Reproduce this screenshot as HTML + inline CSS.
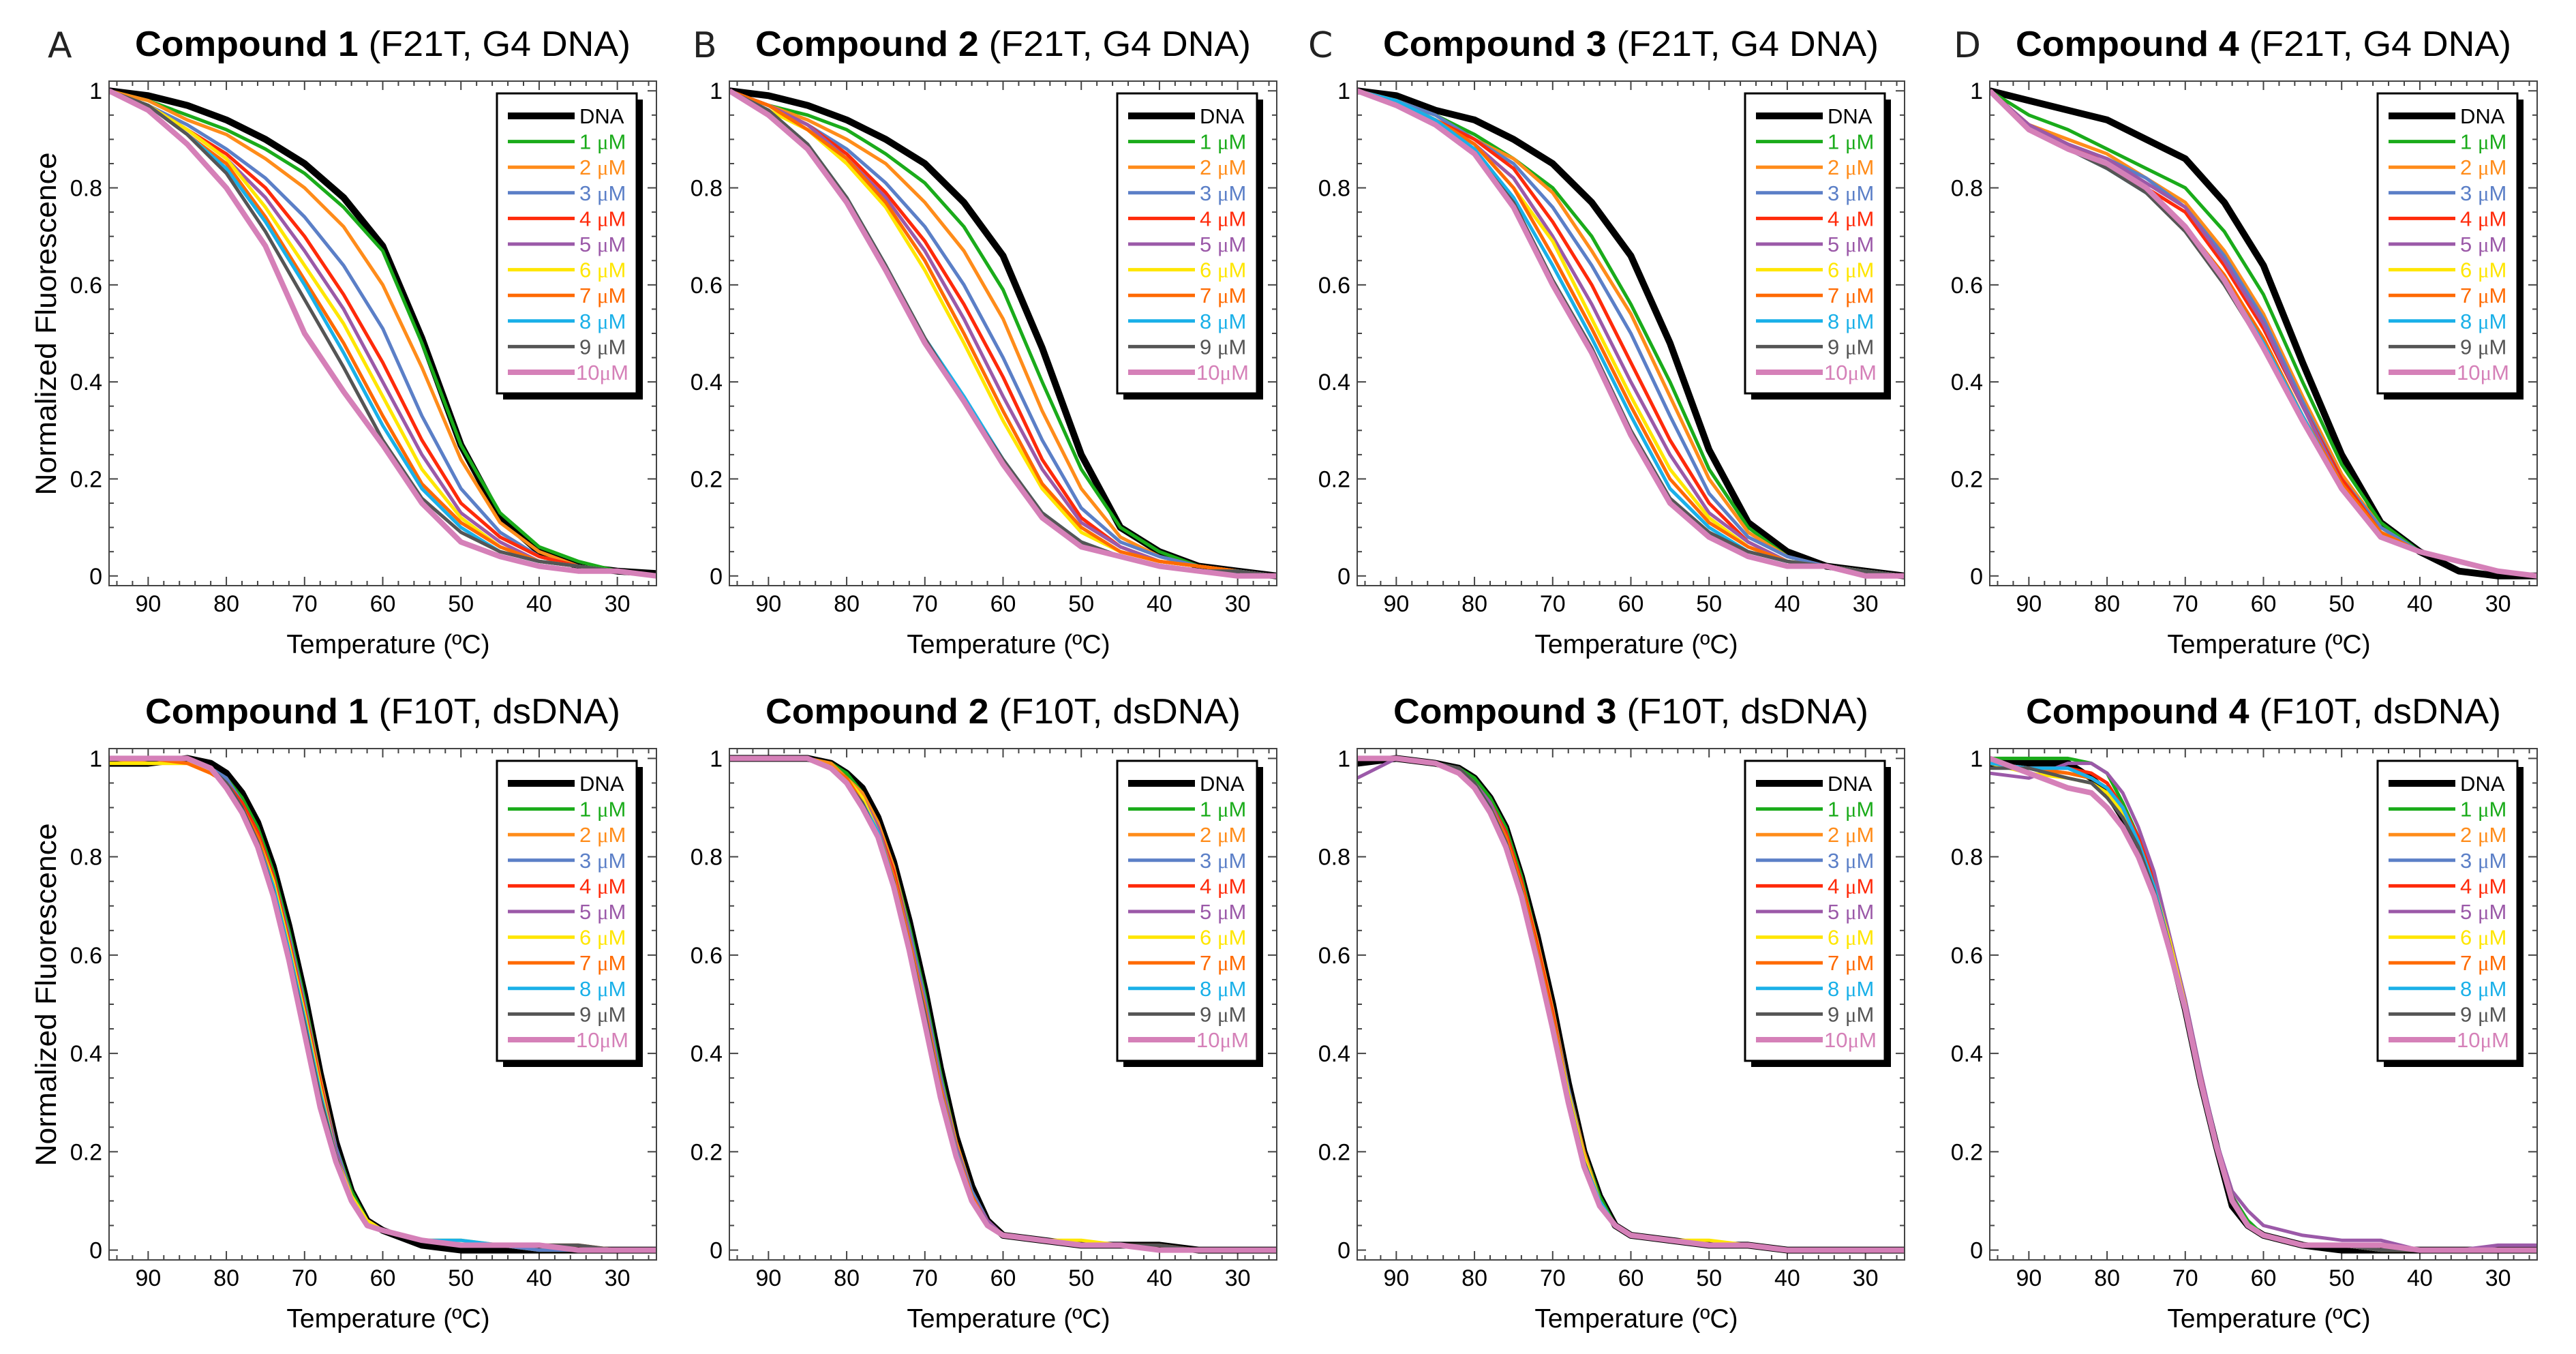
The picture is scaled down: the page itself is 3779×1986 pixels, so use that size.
<!DOCTYPE html>
<html><head><meta charset="utf-8"><style>html,body{margin:0;padding:0;background:#fff}svg{display:block}</style></head>
<body>
<svg id="fig" xmlns="http://www.w3.org/2000/svg" width="3779" height="1986" viewBox="0 0 3779 1986">
<rect x="0" y="0" width="3779" height="1986" fill="#ffffff"/>
</svg>
<script>
const topTemps = [95,90,85,80,75,70,65,60,55,50,45,40,35,30,25];
const botTemps = [95,90,85,82,80,78,76,74,72,70,68,66,64,62,60,55,50,45,40,35,30,25];
const seriesLabels = ["DNA","1 ","2 ","3 ","4 ","5 ","6 ","7 ","8 ","9 ","10"];
const seriesColors = ["#000000","#1aab1a","#ff8c1a","#5b7fc7","#ff2a0a","#9b59a8","#ffe600","#ff6a00","#1ab0e8","#555555","#d580b8"];

const topA = [
[1,.99,.97,.94,.90,.85,.78,.68,.49,.27,.12,.05,.02,.01,.005],
[1,.98,.95,.92,.88,.83,.76,.67,.48,.27,.13,.06,.03,.01,0],
[1,.98,.94,.91,.86,.80,.72,.60,.43,.24,.11,.05,.02,.01,0],
[1,.97,.93,.88,.82,.74,.64,.51,.33,.18,.09,.04,.02,.01,0],
[1,.97,.92,.87,.80,.70,.58,.44,.28,.15,.08,.04,.02,.01,0],
[1,.97,.92,.86,.78,.67,.55,.40,.25,.13,.07,.03,.02,.01,0],
[1,.97,.92,.86,.76,.64,.52,.37,.22,.12,.06,.03,.02,.01,0],
[1,.97,.91,.85,.74,.61,.48,.33,.19,.11,.06,.03,.02,.01,0],
[1,.97,.91,.84,.73,.60,.46,.31,.18,.10,.05,.03,.02,.01,0],
[1,.97,.91,.83,.71,.57,.43,.28,.16,.09,.05,.03,.02,.01,0],
[1,.96,.89,.80,.68,.50,.38,.27,.15,.07,.04,.02,.01,.01,0]];
const topB = [
[1,.99,.97,.94,.90,.85,.77,.66,.47,.25,.10,.05,.02,.01,0],
[1,.97,.95,.92,.87,.81,.72,.59,.40,.22,.10,.05,.02,.01,0],
[1,.97,.94,.90,.85,.77,.67,.53,.34,.18,.08,.04,.02,.01,0],
[1,.97,.93,.88,.81,.72,.60,.45,.28,.14,.07,.04,.02,.01,0],
[1,.97,.93,.87,.79,.69,.56,.41,.24,.12,.06,.03,.02,.01,0],
[1,.97,.93,.86,.78,.67,.53,.37,.22,.11,.06,.03,.02,.01,0],
[1,.96,.92,.85,.76,.63,.48,.32,.18,.09,.05,.03,.02,.01,0],
[1,.97,.92,.86,.77,.65,.50,.34,.19,.10,.05,.03,.02,.01,0],
[1,.96,.89,.78,.64,.49,.37,.24,.13,.07,.04,.02,.01,.01,0],
[1,.96,.89,.78,.64,.49,.36,.24,.13,.07,.04,.02,.01,.01,0],
[1,.95,.88,.77,.63,.48,.36,.23,.12,.06,.04,.02,.01,0,0]];
const topC = [
[1,.99,.96,.94,.90,.85,.77,.66,.48,.26,.11,.05,.02,.01,0],
[1,.98,.95,.91,.86,.80,.70,.56,.40,.22,.10,.04,.02,.01,0],
[1,.98,.95,.90,.86,.79,.67,.54,.37,.20,.09,.04,.02,.01,0],
[1,.98,.95,.90,.85,.76,.64,.50,.33,.17,.08,.04,.02,.01,0],
[1,.98,.94,.90,.84,.73,.60,.44,.28,.15,.07,.03,.02,.01,0],
[1,.98,.94,.89,.82,.70,.56,.40,.25,.13,.07,.03,.02,.01,0],
[1,.98,.94,.89,.80,.69,.53,.37,.22,.12,.06,.03,.02,.01,0],
[1,.98,.94,.89,.80,.66,.51,.35,.20,.11,.06,.03,.02,.01,0],
[1,.98,.94,.88,.78,.64,.49,.33,.18,.10,.05,.03,.02,.01,0],
[1,.97,.93,.87,.77,.61,.47,.30,.16,.09,.05,.03,.02,.01,0],
[1,.97,.93,.87,.76,.60,.46,.29,.15,.08,.04,.02,.02,0,0]];
const topD = [
[1,.98,.96,.94,.90,.86,.77,.64,.44,.25,.11,.05,.01,0,0],
[1,.95,.92,.88,.84,.80,.71,.58,.40,.23,.11,.05,.03,.01,0],
[1,.93,.90,.87,.82,.77,.67,.54,.37,.21,.10,.05,.03,.01,0],
[1,.92,.89,.86,.82,.76,.66,.53,.36,.20,.10,.05,.03,.01,0],
[1,.93,.89,.85,.80,.75,.64,.51,.35,.20,.09,.05,.03,.01,0],
[1,.93,.89,.86,.81,.76,.65,.52,.35,.19,.09,.05,.03,.01,0],
[1,.92,.88,.85,.80,.72,.62,.49,.33,.19,.09,.05,.03,.01,0],
[1,.92,.88,.85,.80,.72,.62,.49,.33,.19,.09,.05,.03,.01,0],
[1,.92,.88,.84,.79,.72,.61,.48,.33,.18,.08,.05,.03,.01,0],
[1,.92,.88,.84,.79,.71,.60,.47,.32,.18,.08,.05,.03,.01,0],
[1,.92,.88,.85,.80,.72,.61,.47,.32,.18,.08,.05,.03,.01,0]];

const botA = [
[.99,.99,1,.99,.97,.93,.87,.78,.66,.52,.36,.22,.12,.06,.04,.01,0,0,0,0,0,0],
[1,1,1,.98,.96,.92,.86,.77,.65,.51,.35,.21,.12,.06,.04,.02,.01,.01,0,0,0,0],
[1,.99,.99,.97,.96,.91,.85,.76,.64,.50,.35,.21,.11,.06,.04,.02,.01,.01,0,0,0,0],
[1,1,1,.98,.96,.91,.85,.76,.64,.50,.34,.21,.11,.06,.04,.02,.01,.01,0,0,0,0],
[1,1,1,.98,.95,.91,.85,.76,.63,.49,.34,.20,.11,.06,.04,.02,.01,.01,.01,0,0,0],
[1,1,1,.98,.95,.90,.84,.75,.62,.48,.33,.20,.11,.06,.04,.02,.01,.01,.01,0,0,0],
[.99,.99,.99,.97,.95,.90,.84,.75,.62,.48,.33,.19,.11,.06,.04,.02,.02,.01,.01,0,0,0],
[1,1,.99,.97,.95,.90,.84,.74,.61,.47,.32,.19,.10,.05,.04,.02,.01,.01,.01,.01,0,0],
[1,1,1,.98,.95,.90,.83,.74,.61,.47,.32,.19,.10,.05,.04,.02,.02,.01,.01,0,0,0],
[1,1,1,.98,.95,.90,.83,.73,.60,.46,.31,.19,.10,.05,.04,.02,.01,.01,.01,.01,0,0],
[1,1,1,.98,.94,.89,.82,.72,.59,.44,.29,.18,.10,.05,.04,.02,.01,.01,.01,0,0,0]];
const botB = [
[1,1,1,.99,.97,.94,.88,.79,.67,.53,.37,.23,.13,.06,.03,.02,.01,.01,.01,0,0,0],
[1,1,1,.99,.97,.93,.87,.78,.66,.52,.36,.22,.12,.06,.03,.02,.01,.01,0,0,0,0],
[1,1,1,.99,.96,.93,.87,.78,.65,.51,.35,.22,.12,.06,.03,.02,.01,.01,0,0,0,0],
[1,1,1,.98,.96,.92,.86,.77,.65,.51,.35,.21,.12,.06,.03,.02,.01,.01,0,0,0,0],
[1,1,1,.98,.96,.92,.86,.77,.64,.50,.34,.21,.11,.06,.03,.02,.01,.01,0,0,0,0],
[1,1,1,.98,.96,.92,.86,.76,.64,.50,.34,.21,.11,.06,.03,.02,.01,.01,0,0,0,0],
[1,1,1,.98,.96,.92,.85,.76,.63,.49,.33,.20,.11,.05,.03,.02,.02,.01,0,0,0,0],
[1,1,1,.98,.96,.91,.85,.76,.63,.49,.33,.20,.11,.05,.03,.02,.01,.01,.01,0,0,0],
[1,1,1,.98,.95,.91,.85,.75,.62,.48,.32,.20,.10,.05,.03,.02,.01,.01,0,0,0,0],
[1,1,1,.98,.95,.91,.84,.75,.62,.48,.32,.19,.10,.05,.03,.02,.01,.01,.01,0,0,0],
[1,1,1,.98,.95,.90,.84,.74,.61,.46,.31,.19,.10,.05,.03,.02,.01,.01,0,0,0,0]];
const botC = [
[.99,1,.99,.98,.96,.92,.86,.76,.64,.50,.34,.20,.11,.05,.03,.02,.01,.01,0,0,0,0],
[1,1,.99,.98,.96,.92,.86,.76,.63,.49,.33,.20,.11,.05,.03,.02,.01,.01,0,0,0,0],
[1,1,.99,.98,.95,.91,.85,.75,.63,.49,.33,.20,.10,.05,.03,.02,.01,.01,0,0,0,0],
[1,1,.99,.98,.95,.91,.85,.75,.62,.48,.33,.19,.10,.05,.03,.02,.01,.01,0,0,0,0],
[1,1,.99,.98,.95,.91,.85,.75,.62,.48,.32,.19,.10,.05,.03,.02,.01,.01,0,0,0,0],
[.96,1,.99,.98,.95,.91,.84,.74,.61,.47,.32,.19,.10,.05,.03,.02,.01,.01,0,0,0,0],
[1,1,.99,.98,.95,.90,.84,.74,.61,.47,.32,.19,.10,.05,.03,.02,.02,.01,0,0,0,0],
[1,1,.99,.98,.95,.90,.84,.74,.61,.47,.31,.18,.10,.05,.03,.02,.01,.01,0,0,0,0],
[1,1,.99,.98,.95,.90,.83,.73,.60,.46,.31,.18,.10,.05,.03,.02,.01,.01,0,0,0,0],
[1,1,.99,.98,.95,.90,.83,.73,.60,.46,.31,.18,.09,.05,.03,.02,.01,.01,0,0,0,0],
[1,1,.99,.97,.94,.89,.82,.72,.59,.45,.30,.17,.09,.05,.03,.02,.01,.01,0,0,0,0]];
const botD = [
[.99,.99,.99,.96,.93,.88,.82,.73,.62,.49,.34,.21,.09,.05,.03,.01,0,0,0,0,0,0],
[1,1,1,.99,.97,.91,.84,.75,.63,.50,.35,.21,.11,.06,.03,.01,.01,0,0,0,0,0],
[.99,.98,.97,.96,.94,.90,.83,.74,.62,.49,.35,.21,.11,.05,.03,.01,.01,0,0,0,0,0],
[.99,.98,.98,.96,.94,.90,.83,.74,.62,.49,.34,.21,.11,.05,.03,.01,.01,0,0,0,0,0],
[.99,.98,.98,.97,.95,.90,.84,.75,.63,.50,.35,.21,.11,.05,.03,.01,.01,0,0,0,0,0],
[.97,.96,.99,.99,.97,.93,.86,.77,.64,.51,.36,.22,.12,.08,.05,.03,.02,.02,0,0,.01,.01],
[.99,.97,.96,.95,.93,.89,.83,.74,.63,.50,.35,.21,.11,.05,.03,.01,.01,0,0,0,0,0],
[.99,.98,.97,.96,.94,.90,.83,.74,.62,.49,.35,.21,.11,.05,.03,.01,.01,0,0,0,0,0],
[.99,.98,.98,.96,.94,.90,.83,.74,.62,.49,.34,.21,.11,.05,.03,.01,.01,0,0,0,0,0],
[.98,.98,.96,.95,.92,.88,.82,.73,.62,.49,.34,.21,.11,.05,.03,.01,.01,0,0,0,0,0],
[1,.97,.94,.93,.90,.86,.80,.72,.61,.49,.34,.21,.10,.05,.03,.01,.01,.01,0,0,0,0]];

const yTickValues = [0,0.2,0.4,0.6,0.8,1];
const yTickLabels = ["0","0.2","0.4","0.6","0.8","1"];
const xTickValues = [90,80,70,60,50,40,30];
const xTickLabels = ["90","80","70","60","50","40","30"];

const NS = "http://www.w3.org/2000/svg";
const svg = document.getElementById("fig");
function mk(tag, attrs, parent) {
  const e = document.createElementNS(NS, tag);
  for (const k in attrs) e.setAttribute(k, attrs[k]);
  (parent || svg).appendChild(e);
  return e;
}

const lefts = [160, 1070, 1991, 2919];
const letters = ["A","B","C","D"];
const letterX = [70, 1016, 1919, 2866];
const panels = [
  {row:0, col:0, temps:topTemps, data:topA, comp:"1", kind:"(F21T, G4 DNA)"},
  {row:0, col:1, temps:topTemps, data:topB, comp:"2", kind:"(F21T, G4 DNA)"},
  {row:0, col:2, temps:topTemps, data:topC, comp:"3", kind:"(F21T, G4 DNA)"},
  {row:0, col:3, temps:topTemps, data:topD, comp:"4", kind:"(F21T, G4 DNA)"},
  {row:1, col:0, temps:botTemps, data:botA, comp:"1", kind:"(F10T, dsDNA)"},
  {row:1, col:1, temps:botTemps, data:botB, comp:"2", kind:"(F10T, dsDNA)"},
  {row:1, col:2, temps:botTemps, data:botC, comp:"3", kind:"(F10T, dsDNA)"},
  {row:1, col:3, temps:botTemps, data:botD, comp:"4", kind:"(F10T, dsDNA)"}
];
const FONT = '"Liberation Sans", "DejaVu Sans", sans-serif';

panels.forEach(function(p) {
  const L = lefts[p.col], W = 803;
  const T = p.row === 0 ? 119 : 1098;
  const H = p.row === 0 ? 740 : 750;
  const xs = function(t){ return L + (95 - t) / 70 * W; };
  const ys = function(v){ return T + (1.02 - v) / 1.04 * H; };
  const g = mk("g", {});
  
  

  if (p.row === 0) {
    const lt = mk("text", {x: letterX[p.col], y: 84, "font-family": '"DejaVu Sans", sans-serif', "font-size": 52, fill: "#222"}, g);
    lt.textContent = letters[p.col];
    
    
  }
  const tw = p.row === 0 ? 727 : 697;
  const tcx = L + W / 2;
  const ty = p.row === 0 ? 82 : 1061;
  const tt = mk("text", {x: tcx - tw / 2, y: ty, "font-family": FONT, "font-size": 52, fill: "#000", textLength: tw, lengthAdjust: "spacingAndGlyphs"}, g);
  
  
  const tb = mk("tspan", {"font-weight": "bold"}, tt);
  tb.textContent = "Compound " + p.comp + " ";
  const tn = mk("tspan", {}, tt);
  tn.textContent = p.kind;

  const cid = "clip" + p.row + p.col;
  const cp = mk("clipPath", {id: cid}, g);
  mk("rect", {x: L, y: T, width: W, height: H}, cp);

  const tg = mk("g", {stroke: "#444", "stroke-width": 2}, g);
  
  
  for (let t = 94; t >= 26; t -= 2) {
    const len = (t % 10 === 0) ? 13 : 7;
    mk("line", {x1: xs(t), x2: xs(t), y1: T + H, y2: T + H - len}, tg);
    mk("line", {x1: xs(t), x2: xs(t), y1: T, y2: T + len}, tg);
  }
  for (let i = 0; i <= 20; i++) {
    const v = i * 0.05;
    const len = (i % 4 === 0) ? 13 : 7;
    mk("line", {x1: L, x2: L + len, y1: ys(v), y2: ys(v)}, tg);
    mk("line", {x1: L + W, x2: L + W - len, y1: ys(v), y2: ys(v)}, tg);
  }
  yTickValues.forEach(function(v, i) {
    const e = mk("text", {x: L - 10, y: ys(v) + 12, "text-anchor": "end", "font-family": FONT, "font-size": 34, fill: "#000"}, g);
    e.textContent = yTickLabels[i];
    
    
  });
  xTickValues.forEach(function(v, i) {
    const e = mk("text", {x: xs(v), y: T + H + 38, "text-anchor": "middle", "font-family": FONT, "font-size": 34, fill: "#000"}, g);
    e.textContent = xTickLabels[i];
    
    
  });
  const xt = mk("text", {x: L + W / 2 + 8, y: T + H + 99, "text-anchor": "middle", "font-family": FONT, "font-size": 39, fill: "#000"}, g);
  xt.textContent = "Temperature (ºC)";
  
  
  if (p.col === 0) {
    const cy = T + H / 2 - 14;
    const yt = mk("text", {x: 0, y: 0, transform: "translate(" + (L - 78) + "," + cy + ") rotate(-90)", "text-anchor": "middle", "font-family": FONT, "font-size": 43, fill: "#000", textLength: 503, lengthAdjust: "spacingAndGlyphs"}, g);
    yt.textContent = "Normalized Fluorescence";
    
    
  }

  const sg = mk("g", {"clip-path": "url(#" + cid + ")", fill: "none", "stroke-linejoin": "round"}, g);
  
  
  p.data.forEach(function(vals, si) {
    const pts = vals.map(function(v, k){ return xs(p.temps[k]).toFixed(1) + "," + ys(v).toFixed(1); }).join(" ");
    const w = si === 0 ? 10 : (si === 10 ? 8 : 5);
    const pl = mk("polyline", {points: pts, stroke: seriesColors[si], "stroke-width": w}, sg);
    
    
  });

  const fr = mk("rect", {x: L, y: T, width: W, height: H, fill: "none", stroke: "#444", "stroke-width": 2}, g);
  
  

  const lx = L + 569, ly = T + 18, lw = 205, lh = 440;
  const lg = mk("g", {}, g);
  
  
  mk("rect", {x: lx + 9, y: ly + 9, width: lw, height: lh, fill: "#000"}, lg);
  mk("rect", {x: lx, y: ly, width: lw, height: lh, fill: "#fff", stroke: "#000", "stroke-width": 3}, lg);
  seriesLabels.forEach(function(lab, si) {
    const yy = ly + 33 + si * 37.6;
    const w = si === 0 ? 10 : (si === 10 ? 8 : 5);
    const ln = mk("line", {x1: lx + 16, x2: lx + 114, y1: yy, y2: yy, stroke: seriesColors[si], "stroke-width": w}, lg);
    
    
    const tx = mk("text", {x: si === 10 ? lx + 116 : lx + 121, y: yy + 11, "font-family": FONT, "font-size": 31, fill: seriesColors[si]}, lg);
    
    
    if (si === 0) { tx.textContent = lab; }
    else {
      const a = mk("tspan", {}, tx); a.textContent = lab;
      const m = mk("tspan", {"font-family": '"Liberation Serif", serif'}, tx); m.textContent = "μ";
      const b = mk("tspan", {}, tx); b.textContent = "M";
    }
  });
});
</script>
</body></html>
